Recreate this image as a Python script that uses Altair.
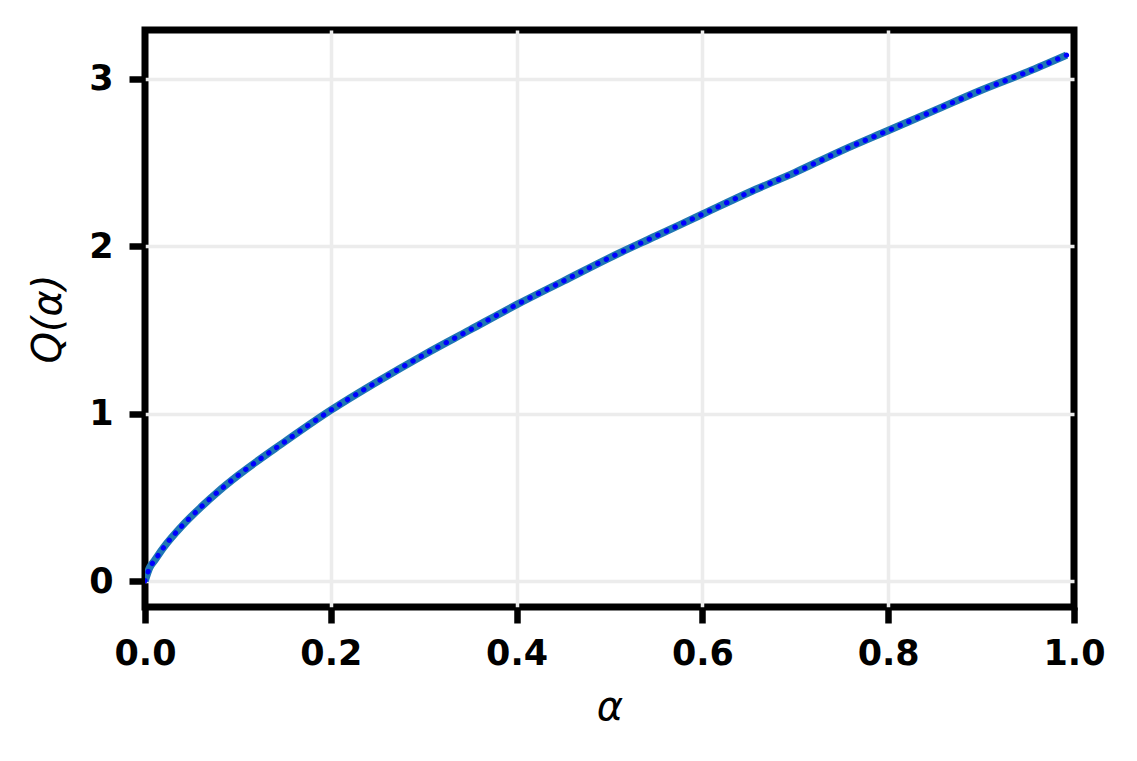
import altair as alt
import pandas as pd

alpha = [0.0, 0.005, 0.01, 0.02, 0.04, 0.06, 0.08, 0.1, 0.15, 0.2, 0.25, 0.3, 0.35,
         0.4, 0.45, 0.5, 0.55, 0.6, 0.65, 0.7, 0.75, 0.8, 0.85, 0.9, 0.95, 0.992]
q_vals = [0.0, 0.08, 0.12, 0.20, 0.33, 0.44, 0.54, 0.63, 0.83, 1.02, 1.19, 1.35, 1.50,
          1.65, 1.79, 1.93, 2.06, 2.19, 2.32, 2.44, 2.57, 2.69, 2.81, 2.93, 3.04, 3.14]
x_ticks = [0.0, 0.2, 0.4, 0.6, 0.8, 1.0]
y_ticks = [0, 1, 2, 3]

df = pd.DataFrame({"alpha": alpha, "q": q_vals})

x = alt.X("alpha:Q", scale=alt.Scale(domain=[0, 1], nice=False, zero=False),
          axis=alt.Axis(values=x_ticks, format=".1f", title="α", titleFontStyle="italic",
                        titleFontWeight="normal", titleFontSize=40, titlePadding=16,
                        labelPadding=13, labelFlush=False,
                        gridOpacity={"condition": {"test": "datum.value <= 0 || datum.value >= 1",
                                                   "value": 0}, "value": 1}))
y = alt.Y("q:Q", scale=alt.Scale(domain=[-0.155, 3.29], nice=False, zero=False),
          axis=alt.Axis(values=y_ticks, format="d", title="Q(α)", titleFontStyle="italic",
                        titleFontWeight="normal", titleFontSize=40, titlePadding=20,
                        labelPadding=16, labelFlush=False))

base = alt.Chart(df)
solid = base.mark_line(color="#1f77b4", strokeWidth=7.5, clip=True,
                       interpolate="monotone").encode(x=x, y=y)
dotted = base.mark_line(color="#0000ff", strokeWidth=5, strokeDash=[0.5, 9], strokeCap="round",
                        clip=True, interpolate="monotone").encode(x=x, y=y)

chart = (solid + dotted).properties(
    width=929, height=577,
    autosize=alt.AutoSizeParams(type="none"),
    padding={"left": 137, "top": 22, "right": 55, "bottom": 146},
    background="white",
).configure_view(
    stroke="black", strokeWidth=7
).configure_axis(
    domain=False,
    grid=True, gridColor="#ececec", gridWidth=3.5,
    ticks=True, tickColor="black", tickWidth=6.5, tickSize=16,
    labelFont="DejaVu Sans", labelFontWeight="bold", labelFontSize=35, labelColor="black",
    titleFont="DejaVu Sans", titleColor="black",
)

chart.save("out.html", embed_options={"renderer": "svg", "actions": False})
